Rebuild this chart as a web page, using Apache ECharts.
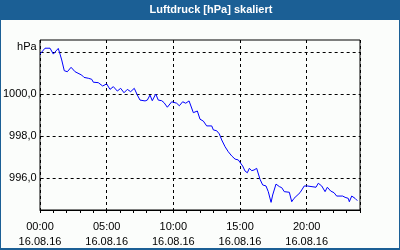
<!DOCTYPE html>
<html><head><meta charset="utf-8">
<script src="https://cdn.jsdelivr.net/npm/echarts@6/dist/echarts.min.js"></script>
<style>html,body{margin:0;padding:0;background:#fbfdfb}#c{width:400px;height:250px}</style>
</head><body><div id="c"></div>
<script>
const titleText = 'Luftdruck [hPa] skaliert';
const dateLabel = '16.08.16';
const hours = [0.0,0.375,0.75,1.0,1.2,1.37,1.5,1.63,1.82,2.05,2.33,2.63,2.75,3.13,3.3,3.62,3.88,4.0,4.37,4.7,5.0,5.25,5.5,5.8,6.05,6.3,6.55,6.8,7.07,7.3,7.5,7.88,8.05,8.25,8.42,8.68,8.87,9.13,9.3,9.55,9.88,10.25,10.45,10.7,10.93,11.18,11.5,11.8,12.0,12.25,12.5,12.88,13.0,13.25,13.45,13.63,13.88,14.12,14.38,14.63,14.87,15.0,15.2,15.38,15.55,15.7,15.88,16.05,16.25,16.5,16.7,16.95,17.12,17.33,17.45,17.7,17.95,18.13,18.32,18.7,18.88,19.05,19.5,19.82,20.05,20.2,20.7,20.87,21.13,21.38,21.55,21.8,22.05,22.25,22.7,22.88,23.12,23.2,23.38,23.63,23.8];
const pressure = [1001.9,1002.18,1002.18,1001.9,1002.05,1002.17,1001.9,1001.62,1001.11,1001.06,1001.27,1001.06,1000.98,1000.9,1000.79,1000.75,1000.7,1000.56,1000.54,1000.38,1000.48,1000.22,1000.35,1000.14,1000.27,1000.06,1000.22,1000.11,1000.27,999.95,999.71,999.67,999.71,999.95,999.68,1000.0,999.71,999.68,999.59,999.37,999.63,999.56,999.44,999.63,999.56,999.67,999.11,999.19,998.8,998.71,998.48,998.48,998.29,998.25,998.1,997.81,997.49,997.25,997.05,996.9,996.86,996.94,996.57,996.33,996.25,996.46,996.35,996.38,996.46,995.94,995.67,995.62,995.35,994.84,995.19,995.71,995.59,995.54,995.35,995.32,994.87,995.03,995.3,995.62,995.62,995.56,995.56,995.75,995.62,995.35,995.56,995.38,995.3,995.14,995.14,995.08,995.03,994.87,995.14,995.03,994.92];
const yTicks = [996, 998, 1000, 1002];
const xLabelHours = [0, 5, 10, 15, 20];

const font = 'Liberation Sans';
const chart = echarts.init(document.getElementById('c'), null, {renderer: 'canvas'});
const pad = n => (n < 10 ? '0' : '') + n;
chart.setOption({
  animation: false,
  backgroundColor: '#fbfdfb',
  grid: [
    {left: 40, top: 40, width: 320, height: 170, show: true, borderColor: '#000', borderWidth: 1, backgroundColor: '#fbfdfb'},
    {left: 40, top: 52, width: 320, height: 126}
  ],
  xAxis: [
    {type: 'value', gridIndex: 0, min: 0, max: 24, interval: 1,
     axisLine: {show: true, lineStyle: {color: '#000'}}, axisTick: {show: true, inside: false, length: 3, lineStyle: {color: '#000'}},
     axisLabel: {show: false}, splitLine: {show: false}},
    {type: 'value', gridIndex: 0, min: 0, max: 24, interval: 5, position: 'bottom',
     axisLine: {show: false}, axisTick: {show: false},
     axisLabel: {show: true, margin: 9, color: '#000', fontFamily: font, fontSize: 11, lineHeight: 15,
       showMaxLabel: false,
       formatter: v => (xLabelHours.indexOf(v) >= 0 ? pad(v) + ':00\n' + dateLabel : '')},
     splitLine: {show: true, lineStyle: {color: '#000', type: [3, 3], width: 1}}},
    {type: 'value', gridIndex: 1, min: 0, max: 24, show: false}
  ],
  yAxis: [
    {type: 'value', gridIndex: 0, min: 994.476, max: 1002.571, show: false},
    {type: 'value', gridIndex: 1, min: 996, max: 1002, interval: 2,
     axisLine: {show: false}, axisTick: {show: false},
     axisLabel: {show: true, margin: 4, color: '#000', fontFamily: font, fontSize: 11,
       formatter: v => (v === 1002 ? '{u|hPa}' : v.toFixed(1).replace('.', ',')),
       rich: {u: {fontFamily: font, fontSize: 11, color: '#000', padding: [0, 0, 11, 0]}}},
     splitLine: {show: true, lineStyle: {color: '#000', type: [3, 3], width: 1}}}
  ],
  series: [{
    type: 'line', xAxisIndex: 0, yAxisIndex: 0,
    data: hours.map((h, i) => [h, pressure[i]]),
    showSymbol: false, symbol: 'none',
    lineStyle: {color: '#0000ff', width: 1}
  }],
  graphic: [
    {type: 'rect', left: 0, top: 0, shape: {width: 400, height: 20}, style: {fill: '#1b5f95'}},
    {type: 'rect', left: 0, top: 0, shape: {width: 1, height: 250}, style: {fill: '#1b5f95'}},
    {type: 'rect', left: 399, top: 0, shape: {width: 1, height: 250}, style: {fill: '#1b5f95'}},
    {type: 'rect', left: 0, top: 248, shape: {width: 400, height: 2}, style: {fill: '#1b5f95'}},
    {type: 'text', x: 211, y: 10, style: {text: titleText, fill: '#fff', font: 'bold 11px "Liberation Sans"', textAlign: 'center', textVerticalAlign: 'middle'}}
  ]
});
</script></body></html>
